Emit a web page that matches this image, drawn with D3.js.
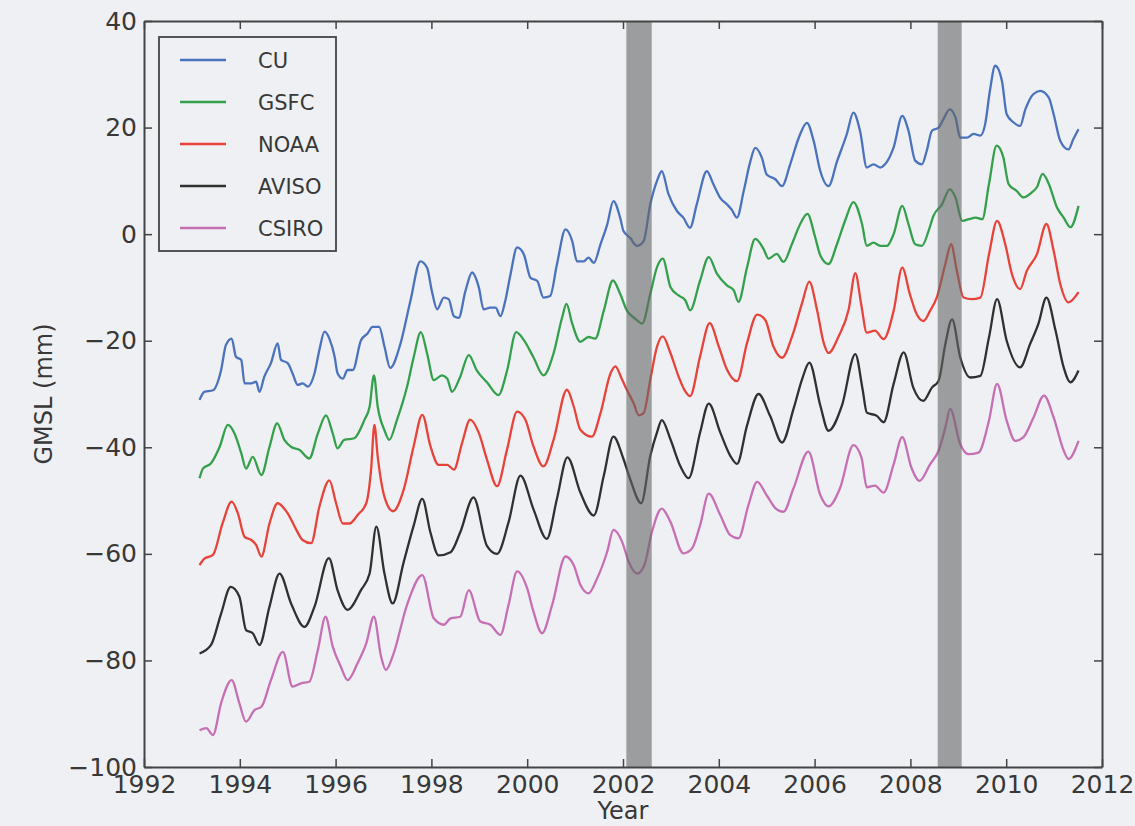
<!DOCTYPE html>
<html>
<head>
<meta charset="utf-8">
<script src="https://cdn.jsdelivr.net/npm/d3@7"></script>
<style>
    html, body { margin: 0; padding: 0; background: #eef0f3; }
    svg { display: block; font-family: 'DejaVu Sans', sans-serif; }
    .axis text { fill: #383838; font-size: 25px; }
    .axis .domain { stroke: #444; stroke-width: 2; }
    .axis .tick line { stroke: #444; stroke-width: 1.5; }
    .axis-title { fill: #383838; font-size: 24px; }
    .legend text { fill: #383838; font-size: 21px; }
</style>
</head>
<body>
<div id="chart"></div>
<script>
// GMSL series, [year, mm]
const cu = [
    [1993.16,-31.1],[1993.26,-29.6],[1993.44,-29.3],[1993.61,-25.5],[1993.71,-20.8],[1993.83,-19.6],[1993.92,-23],
    [1994.03,-23.6],[1994.10,-28],[1994.24,-28],[1994.34,-27.7],[1994.41,-29.6],[1994.51,-26.8],[1994.65,-24.2],
    [1994.79,-20.5],[1994.86,-23.6],[1995.0,-24.2],[1995.1,-26.1],[1995.21,-28.3],[1995.31,-28],[1995.42,-28.6],
    [1995.56,-26.1],[1995.66,-21.8],[1995.77,-18.3],[1995.87,-19.6],[1995.98,-23],[1996.04,-26.1],[1996.15,-27.1],
    [1996.25,-25.5],[1996.36,-25.5],[1996.53,-19.9],[1996.67,-18.6],[1996.77,-17.4],[1996.91,-17.4],[1997.02,-21.1],
    [1997.14,-25.1],[1997.35,-20.7],[1997.56,-12.6],[1997.77,-5.1],[1997.91,-6.3],[1998.01,-10.7],[1998.12,-14.1],
    [1998.26,-11.9],[1998.36,-12.2],[1998.47,-15.4],[1998.57,-15.7],[1998.71,-10.7],[1998.85,-7.2],[1998.99,-10],
    [1999.09,-14.1],[1999.23,-13.8],[1999.34,-13.8],[1999.44,-15.4],[1999.54,-12.6],[1999.65,-7.6],[1999.79,-2.5],
    [1999.93,-3.8],[2000.07,-8.2],[2000.21,-8.8],[2000.34,-11.9],[2000.48,-11.6],[2000.62,-5.7],[2000.8,0.9],
    [2000.94,-1.3],[2001.04,-5.1],[2001.18,-5.1],[2001.28,-4.4],[2001.39,-5.4],[2001.53,-1.9],[2001.67,1.8],
    [2001.8,6.2],[2001.94,3.1],[2002.01,0.6],[2002.15,-0.7],[2002.29,-2.2],[2002.43,-1.3],[2002.57,5.6],
    [2002.71,10],[2002.81,11.8],[2002.95,7.5],[2003.13,4.3],[2003.26,3.1],[2003.4,1.2],[2003.54,5.6],
    [2003.75,11.8],[2003.89,9.3],[2004.03,6.8],[2004.17,5.6],[2004.27,4.6],[2004.38,3.1],[2004.52,8.1],
    [2004.66,13.7],[2004.76,16.2],[2004.9,14.3],[2005.0,11.2],[2005.18,10.3],[2005.32,9.0],[2005.49,13.1],
    [2005.67,18.1],[2005.84,20.9],[2005.98,17.5],[2006.12,11.8],[2006.29,9.0],[2006.47,13.7],[2006.67,18.7],
    [2006.81,22.8],[2006.95,19.3],[2007.09,12.5],[2007.23,13.1],[2007.37,12.5],[2007.47,13.1],[2007.65,16.3],
    [2007.83,22.2],[2007.96,19.4],[2008.1,13.8],[2008.24,13.1],[2008.34,15.6],[2008.45,19.4],[2008.59,20],
    [2008.69,21.6],[2008.82,23.4],[2008.94,21.9],[2009.04,18.1],[2009.18,18.1],[2009.32,18.8],[2009.46,18.5],
    [2009.56,20.6],[2009.66,26.9],[2009.77,31.6],[2009.91,28.8],[2010.01,22.5],[2010.15,21],[2010.29,20.3],
    [2010.4,23.4],[2010.57,26.3],[2010.71,26.9],[2010.89,25.6],[2010.99,22.5],[2011.13,17.5],[2011.3,15.9],
    [2011.4,17.8],[2011.51,19.7]
];
const gsfc = [
    [1993.16,-45.8],[1993.23,-44],[1993.4,-43],[1993.58,-39.9],[1993.75,-35.8],[1993.89,-37.4],[1994.03,-41.1],
    [1994.13,-44],[1994.27,-41.8],[1994.45,-45.2],[1994.62,-39.9],[1994.78,-35.5],[1994.93,-38.6],[1995.07,-39.9],
    [1995.25,-40.5],[1995.45,-42.1],[1995.63,-37.4],[1995.8,-34],[1995.94,-37.4],[1996.04,-40.2],[1996.18,-38.6],
    [1996.39,-38.3],[1996.6,-34.9],[1996.71,-32.4],[1996.8,-26.5],[1996.88,-32.4],[1997.02,-36.8],[1997.12,-38.6],
    [1997.28,-34.9],[1997.49,-28.7],[1997.63,-23.1],[1997.78,-18.4],[1997.91,-22.4],[1998.05,-27.4],[1998.22,-26.5],
    [1998.33,-27.1],[1998.43,-29.6],[1998.6,-26.8],[1998.78,-22.7],[1998.95,-25.6],[1999.16,-27.8],[1999.4,-30.2],
    [1999.58,-25.6],[1999.77,-18.4],[1999.93,-19.9],[2000.13,-23.1],[2000.34,-26.5],[2000.55,-22.4],[2000.73,-15.6],
    [2000.82,-13.1],[2000.94,-16.8],[2001.11,-20.2],[2001.28,-19.3],[2001.42,-19.6],[2001.6,-14.3],[2001.79,-8.7],
    [2001.94,-11.2],[2002.08,-14.3],[2002.26,-15.9],[2002.4,-16.8],[2002.57,-11.2],[2002.71,-6.2],[2002.83,-4.6],
    [2002.99,-9.9],[2003.16,-11.5],[2003.3,-12.4],[2003.4,-14.3],[2003.61,-8.7],[2003.79,-4.3],[2003.96,-7.4],
    [2004.17,-9.6],[2004.31,-10.5],[2004.41,-12.7],[2004.59,-6.2],[2004.76,-0.9],[2004.93,-2.7],[2005.04,-4.6],
    [2005.21,-3.7],[2005.35,-5.2],[2005.53,-1.8],[2005.7,1.9],[2005.85,3.8],[2006.01,-0.5],[2006.12,-4.0],
    [2006.29,-5.6],[2006.47,-1.8],[2006.64,2.6],[2006.81,6.0],[2006.99,1.9],[2007.09,-2.2],[2007.23,-1.6],
    [2007.37,-2.2],[2007.51,-2.2],[2007.65,0],[2007.83,5.3],[2007.96,1.9],[2008.1,-1.9],[2008.24,-2.2],
    [2008.38,0.6],[2008.48,3.4],[2008.66,5.6],[2008.82,8.4],[2008.94,6.9],[2009.08,2.5],[2009.22,2.8],
    [2009.36,3.1],[2009.5,2.8],[2009.64,9.4],[2009.8,16.6],[2009.94,14.4],[2010.05,9.4],[2010.22,8.1],
    [2010.36,6.9],[2010.53,7.8],[2010.64,8.8],[2010.76,11.3],[2010.89,9.4],[2011.06,5],[2011.2,3.1],
    [2011.34,1.3],[2011.51,5.3]
];
const noaa = [
    [1993.16,-62.1],[1993.26,-60.9],[1993.44,-60.2],[1993.64,-54.3],[1993.83,-50.2],[1993.96,-52.4],[1994.1,-56.8],
    [1994.24,-57.4],[1994.34,-58.3],[1994.45,-60.5],[1994.62,-54.3],[1994.79,-50.5],[1995.0,-52.4],[1995.18,-55.5],
    [1995.31,-57.4],[1995.49,-58],[1995.66,-51.2],[1995.87,-46.2],[1996.01,-50.5],[1996.15,-54.3],[1996.29,-54.3],
    [1996.46,-52.7],[1996.64,-50.5],[1996.74,-44.3],[1996.81,-35.8],[1996.88,-41.8],[1997.02,-49.3],[1997.2,-52],
    [1997.42,-48],[1997.63,-39.8],[1997.81,-33.9],[1997.98,-39.8],[1998.15,-43.3],[1998.33,-43.3],[1998.47,-44.2],
    [1998.64,-39.2],[1998.81,-34.8],[1998.99,-37.3],[1999.16,-42.3],[1999.37,-47.3],[1999.58,-40.4],[1999.79,-33.3],
    [1999.96,-34.8],[2000.13,-39.8],[2000.34,-43.6],[2000.55,-38.6],[2000.83,-29.2],[2000.97,-32.3],[2001.11,-36.7],
    [2001.35,-38],[2001.53,-33.6],[2001.74,-26.1],[2001.84,-24.8],[2001.98,-27.3],[2002.08,-29.2],[2002.22,-31.7],
    [2002.33,-34],[2002.43,-33.6],[2002.57,-27.3],[2002.71,-21.1],[2002.83,-19.2],[2002.99,-22.3],[2003.16,-26.7],
    [2003.3,-29.5],[2003.4,-30.4],[2003.61,-22.9],[2003.81,-16.7],[2004.0,-21.1],[2004.17,-25.4],[2004.38,-27.6],
    [2004.59,-20.4],[2004.8,-15.1],[2004.97,-16.1],[2005.14,-21.1],[2005.32,-23.2],[2005.53,-19.2],[2005.74,-12.9],
    [2005.89,-8.9],[2006.05,-14.2],[2006.19,-20.4],[2006.29,-22.3],[2006.5,-19.2],[2006.71,-14.2],[2006.85,-7.3],
    [2006.97,-13],[2007.09,-18.5],[2007.26,-18.1],[2007.44,-19.7],[2007.65,-14.4],[2007.83,-6.3],[2007.99,-11.3],
    [2008.13,-15],[2008.27,-16.3],[2008.41,-14.4],[2008.55,-11.9],[2008.73,-5.6],[2008.85,-1.9],[2008.97,-6.9],
    [2009.11,-11.9],[2009.28,-12.2],[2009.46,-11.9],[2009.64,-3.8],[2009.81,2.5],[2009.98,-1.9],[2010.12,-7.5],
    [2010.29,-10.3],[2010.43,-6.9],[2010.64,-3.8],[2010.84,1.9],[2010.99,-3.1],[2011.13,-9.4],[2011.3,-12.8],
    [2011.51,-10.9]
];
const aviso = [
    [1993.16,-78.7],[1993.4,-77.1],[1993.61,-71.2],[1993.81,-66.2],[1993.99,-68],[1994.13,-74.3],[1994.27,-74.9],
    [1994.41,-77.1],[1994.62,-69.9],[1994.83,-63.7],[1995.07,-69.3],[1995.35,-73.7],[1995.56,-69.9],[1995.86,-60.8],
    [1996.04,-66.8],[1996.25,-70.5],[1996.53,-66.8],[1996.71,-63.7],[1996.85,-54.9],[1997.02,-63.7],[1997.19,-69.3],
    [1997.42,-61.6],[1997.63,-54.7],[1997.81,-49.7],[1997.98,-56],[1998.15,-60.3],[1998.4,-59.7],[1998.6,-56],
    [1998.88,-49.4],[1999.16,-58.5],[1999.37,-60],[1999.61,-54.1],[1999.86,-45.3],[2000.13,-51.6],[2000.41,-57.2],
    [2000.62,-49.7],[2000.84,-41.9],[2001.11,-48.5],[2001.39,-52.8],[2001.6,-45.3],[2001.8,-38],[2002.01,-42.2],
    [2002.15,-46],[2002.38,-50.5],[2002.57,-41.6],[2002.71,-37.2],[2002.81,-34.9],[2002.99,-38.5],[2003.19,-43.4],
    [2003.37,-45.8],[2003.61,-37.2],[2003.79,-31.8],[2004.03,-37.2],[2004.24,-41.6],[2004.38,-43.1],[2004.59,-35.9],
    [2004.83,-30],[2005.07,-34.1],[2005.32,-39.1],[2005.56,-32.8],[2005.74,-27.2],[2005.89,-24.1],[2006.12,-32.2],
    [2006.29,-36.9],[2006.57,-32.2],[2006.85,-22.5],[2007.0,-29],[2007.09,-33.5],[2007.3,-34.1],[2007.44,-35.3],
    [2007.65,-28.1],[2007.86,-22.2],[2008.06,-28.8],[2008.27,-31.3],[2008.45,-28.8],[2008.59,-27.5],[2008.73,-20.6],
    [2008.87,-16],[2009.04,-23.1],[2009.25,-26.9],[2009.46,-26.6],[2009.64,-19.4],[2009.81,-12.2],[2010.01,-20],
    [2010.29,-25],[2010.5,-20.6],[2010.67,-16.9],[2010.84,-11.9],[2011.03,-18.1],[2011.2,-25],[2011.34,-27.8],
    [2011.51,-25.6]
];
const csiro = [
    [1993.16,-93.1],[1993.3,-92.7],[1993.44,-94],[1993.61,-88],[1993.83,-83.7],[1993.99,-88],[1994.13,-91.5],
    [1994.31,-89.3],[1994.45,-88.7],[1994.65,-83.7],[1994.9,-78.4],[1995.1,-84.9],[1995.28,-84.3],[1995.45,-84],
    [1995.63,-78],[1995.79,-71.8],[1995.94,-77.4],[1996.11,-81.2],[1996.25,-83.7],[1996.46,-80.5],[1996.64,-76.8],
    [1996.8,-71.8],[1996.95,-79.3],[1997.05,-81.8],[1997.2,-79],[1997.49,-69.6],[1997.81,-64],[1998.05,-72.1],
    [1998.26,-73.3],[1998.4,-72.1],[1998.6,-71.8],[1998.78,-66.8],[1999.02,-72.7],[1999.23,-73.3],[1999.44,-75.2],
    [1999.61,-69.6],[1999.79,-63.3],[2000.0,-66.5],[2000.13,-70.8],[2000.31,-74.9],[2000.52,-69.6],[2000.8,-60.5],
    [2000.97,-62.1],[2001.11,-65.8],[2001.28,-67.4],[2001.46,-64.6],[2001.67,-59.6],[2001.8,-55.5],[2001.98,-57.7],
    [2002.12,-61.5],[2002.3,-63.7],[2002.45,-62],[2002.6,-56],[2002.81,-51.5],[2002.99,-54],[2003.26,-59.9],
    [2003.44,-59],[2003.61,-54.6],[2003.79,-48.7],[2004.03,-52.7],[2004.24,-56.5],[2004.41,-57.1],[2004.62,-50.8],
    [2004.8,-46.5],[2005.0,-49],[2005.18,-51.4],[2005.35,-52.1],[2005.56,-47.7],[2005.87,-40.8],[2006.12,-49],
    [2006.29,-51.1],[2006.53,-47.7],[2006.81,-39.6],[2006.98,-42],[2007.09,-47.5],[2007.26,-47.2],[2007.44,-48.5],
    [2007.65,-43.2],[2007.83,-38.1],[2008.02,-43.8],[2008.19,-46.3],[2008.41,-43.2],[2008.59,-40.6],[2008.73,-36.3],
    [2008.83,-32.8],[2009.04,-39.4],[2009.21,-41.3],[2009.42,-41],[2009.64,-35],[2009.81,-28.1],[2010.01,-35],
    [2010.19,-38.8],[2010.36,-38.1],[2010.57,-34.4],[2010.79,-30.3],[2010.99,-34.4],[2011.2,-40.6],[2011.3,-42.2],
    [2011.51,-38.8]
];

const seriesNames = ['CU', 'GSFC', 'NOAA', 'AVISO', 'CSIRO'];
const seriesData = [cu, gsfc, noaa, aviso, csiro];
// shaded periods (decimal years)
const bands = [[2002.07, 2002.6], [2008.57, 2009.07]];
const xTicks = [1992, 1994, 1996, 1998, 2000, 2002, 2004, 2006, 2008, 2010, 2012];
const yTicks = [-100, -80, -60, -40, -20, 0, 20, 40];

const colors = ['#4a72bd', '#35a04c', '#e8433a', '#303030', '#c66fb4'];

const containerWidth = 1135, containerHeight = 826;
const margin = { top: 21, right: 33, bottom: 59, left: 144 };
const width = containerWidth - margin.left - margin.right;
const height = containerHeight - margin.top - margin.bottom;

const svg = d3.select('#chart')
    .append('svg')
    .attr('width', containerWidth)
    .attr('height', containerHeight);

const chart = svg.append('g')
    .attr('transform', `translate(${margin.left},${margin.top})`);

const xScale = d3.scaleLinear().domain([1992, 2012]).range([0, width]);
const yScale = d3.scaleLinear().domain([-100, 40]).range([height, 0]);

const line = d3.line()
    .x(d => xScale(d[0]))
    .y(d => yScale(d[1]))
    .curve(d3.curveMonotoneX);

// series lines
chart.selectAll('.series')
    .data(seriesData)
    .join('path')
    .attr('class', 'series')
    .attr('d', line)
    .attr('fill', 'none')
    .attr('stroke', (d, i) => colors[i])
    .attr('stroke-width', 2.3)
    .attr('stroke-linejoin', 'round');

// translucent gray spans on top of the lines
chart.selectAll('.band')
    .data(bands)
    .join('rect')
    .attr('class', 'band')
    .attr('x', d => xScale(d[0]))
    .attr('width', d => xScale(d[1]) - xScale(d[0]))
    .attr('y', 0)
    .attr('height', height)
    .attr('fill', '#666')
    .attr('opacity', 0.6);

// axes, ticks pointing inward on all four sides
chart.append('g')
    .attr('class', 'axis x-axis')
    .attr('transform', `translate(0,${height})`)
    .call(d3.axisBottom(xScale).tickValues(xTicks).tickFormat(d3.format('d'))
        .tickSizeInner(-8).tickSizeOuter(0).tickPadding(8));

chart.append('g')
    .attr('class', 'axis x-axis-top')
    .call(d3.axisTop(xScale).tickValues(xTicks).tickFormat('')
        .tickSizeInner(-8).tickSizeOuter(0));

chart.append('g')
    .attr('class', 'axis y-axis')
    .call(d3.axisLeft(yScale).tickValues(yTicks)
        .tickSizeInner(-8).tickSizeOuter(0).tickPadding(7));

chart.append('g')
    .attr('class', 'axis y-axis-right')
    .attr('transform', `translate(${width},0)`)
    .call(d3.axisRight(yScale).tickValues(yTicks).tickFormat('')
        .tickSizeInner(-8).tickSizeOuter(0));

chart.selectAll('.axis text').attr('font-family', 'DejaVu Sans, sans-serif');

// axis titles
svg.append('text')
    .attr('class', 'axis-title')
    .attr('x', margin.left + width / 2)
    .attr('y', 819)
    .style('text-anchor', 'middle')
    .text('Year');

svg.append('text')
    .attr('class', 'axis-title')
    .attr('transform', `translate(52,${margin.top + height / 2}) rotate(-90)`)
    .style('text-anchor', 'middle')
    .text('GMSL (mm)');

// legend
const legend = chart.append('g')
    .attr('class', 'legend')
    .attr('transform', 'translate(15,16)');

legend.append('rect')
    .attr('width', 177)
    .attr('height', 214)
    .attr('fill', '#eef0f3')
    .attr('stroke', '#444')
    .attr('stroke-width', 1.8);

const items = legend.selectAll('.item')
    .data(seriesNames)
    .join('g')
    .attr('class', 'item')
    .attr('transform', (d, i) => `translate(0,${23 + i * 42})`);

items.append('line')
    .attr('x1', 21).attr('x2', 67)
    .attr('stroke', (d, i) => colors[i])
    .attr('stroke-width', 2.3);

items.append('text')
    .attr('x', 99)
    .attr('dy', '0.36em')
    .text(d => d);
</script>
</body>
</html>
